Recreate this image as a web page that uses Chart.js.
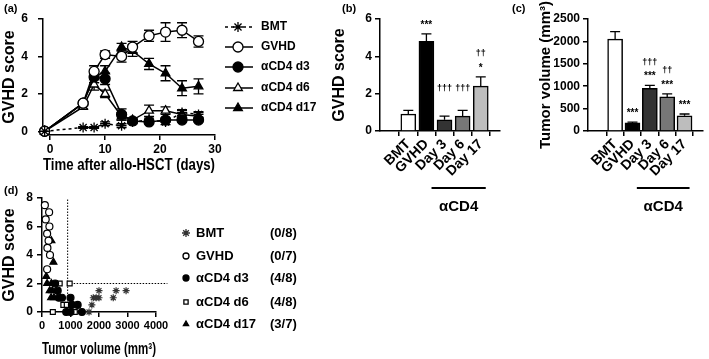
<!DOCTYPE html>
<html lang="en">
<head>
<meta charset="UTF-8">
<title>GVHD score and tumor volume</title>
<script src="https://cdn.jsdelivr.net/npm/chart.js"></script>
<style>
    body { margin: 0; background: #fff; overflow: hidden; }
    #page { position: relative; width: 709px; height: 359px; overflow: hidden; font-family: 'Liberation Sans', Arial, sans-serif; }
    .panel { position: absolute; }
    .tag { position: absolute; font-size: 11px; font-weight: bold; }
</style>
</head>
<body>
<div id="page">
    <div class="panel" style="left:0;top:0;width:340px;height:180px"><canvas id="chartA"></canvas></div>
    <div class="panel" style="left:330px;top:0;width:180px;height:230px"><canvas id="chartB"></canvas></div>
    <div class="panel" style="left:537px;top:0;width:172px;height:230px"><canvas id="chartC"></canvas></div>
    <div class="panel" style="left:0;top:185px;width:330px;height:178px"><canvas id="chartD"></canvas></div>
    <div class="tag" style="left:4px;top:2px">(a)</div>
    <div class="tag" style="left:342px;top:2px">(b)</div>
    <div class="tag" style="left:512px;top:2px">(c)</div>
    <div class="tag" style="left:4px;top:184px">(d)</div>
</div>

<script>
    // ---- (a) GVHD score over time ----
    const days = [-1, 6, 8, 10, 13, 15, 18, 21, 24, 27];
    const bmtScore = [0, 0.2, 0.2, 0.4, 0.3, 0.5, 0.6, 0.5, 1.0, 0.9];
    const bmtErr = [0, 0.05, 0.05, 0.1, 0.1, 0.1, 0.1, 0.15, 0.15, 0.15];
    const gvhdScore = [0, 1.5, 3.2, 4.1, 4.0, 4.5, 5.1, 5.3, 5.4, 4.8];
    const gvhdErr = [0, 0.1, 0.3, 0.2, 0.3, 0.3, 0.3, 0.5, 0.4, 0.3];
    const d3Score = [0, 1.5, 2.9, 2.8, 0.9, 0.55, 0.5, 0.6, 0.6, 0.6];
    const d3Err = [0, 0.1, 0.3, 0.3, 0.3, 0.1, 0.1, 0.1, 0.1, 0.1];
    const d6Score = [0, 1.3, 2.5, 2.0, 0.8, 0.6, 1.1, 1.1, 0.9, 0.8];
    const d6Err = [0, 0.1, 0.3, 0.2, 0.2, 0.1, 0.3, 0.2, 0.2, 0.2];
    const d17Score = [0, 1.5, 2.9, 3.2, 4.5, 4.3, 3.6, 3.1, 2.3, 2.4];
    const d17Err = [0, 0.1, 0.3, 0.3, 0.2, 0.3, 0.3, 0.4, 0.4, 0.4];
    const seriesNames = ['BMT', 'GVHD', 'αCD4 d3', 'αCD4 d6', 'αCD4 d17'];

    // ---- (b) and (c) bar panels ----
    const barLabels = ['BMT', 'GVHD', 'Day 3', 'Day 6', 'Day 17'];
    const barScore = [0.9, 4.8, 0.6, 0.8, 2.4];
    const barScoreErr = [0.2, 0.4, 0.2, 0.3, 0.5];
    const scoreStars = ['', '***', '', '', '*'];
    const scoreDaggers = ['', '', '†††', '†††', '††'];
    const tumorVol = [2050, 180, 950, 760, 340];
    const tumorVolErr = [170, 20, 70, 70, 40];
    const tumorStars = ['', '***', '***', '***', '***'];
    const tumorDaggers = ['', '', '†††', '††', ''];
    const barFill = ['#ffffff', '#000000', '#333333', '#777777', '#bdbdbd'];

    // ---- (d) tumor volume vs GVHD score per mouse ----
    const bmtPts = [[2000, 1.5], [2600, 1.5], [2950, 1.5], [1800, 1.0], [1900, 1.0], [2000, 1.0], [2500, 1.0], [1750, 0.5], [1650, 0]];
    const gvhdPts = [[100, 7.5], [250, 7.0], [130, 6.5], [260, 6.0], [180, 5.5], [230, 5.0], [190, 4.5], [280, 4.0], [180, 3.0]];
    const d3Pts = [[460, 2.0], [550, 1.5], [590, 1.0], [700, 1.0], [1000, 1.0], [1050, 0.5], [1250, 0.5], [850, 0], [1000, 0], [1400, 0]];
    const d6Pts = [[620, 2.0], [970, 2.0], [750, 0.5], [870, 0.5], [380, 0], [1150, 0]];
    const d17Pts = [[330, 5.0], [400, 3.5], [150, 2.5], [180, 2.0], [330, 2.0], [270, 1.5], [360, 1.5], [320, 1.0], [420, 1.0]];
    const pdCounts = ['(0/8)', '(0/7)', '(4/8)', '(4/8)', '(3/7)'];
    const tumorCut = 900;
    const scoreCut = 2;

    const FONT = "'Liberation Sans', Arial, sans-serif";
    Chart.defaults.font.family = FONT;
    Chart.defaults.font.weight = 'bold';
    Chart.defaults.color = '#000';
    Chart.defaults.animation = false;
    Chart.defaults.plugins.legend.display = false;
    Chart.defaults.plugins.tooltip.enabled = false;
    Chart.defaults.maintainAspectRatio = false;
    Chart.defaults.responsive = true;

    function axisStyle(extra) {
        return Object.assign({
            grid: { display: true, drawOnChartArea: false, tickLength: 5, color: '#000', lineWidth: 1.5 },
            border: { color: '#000', width: 1.5 },
        }, extra);
    }

    function drawMarker(ctx, style, r, x, y, fill, stroke) {
        ctx.save();
        ctx.fillStyle = fill;
        ctx.strokeStyle = stroke || '#000';
        ctx.lineWidth = 1.3;
        Chart.helpers.drawPoint(ctx, { pointStyle: style, radius: r, rotation: 0, borderWidth: 1.3 }, x, y);
        ctx.restore();
    }

    // error bars; "up" for bars, both ways for the time course
    const errorBars = {
        id: 'errorBars',
        beforeDatasetsDraw(chart) {
            const ctx = chart.ctx;
            const ys = chart.scales.y;
            chart.data.datasets.forEach((ds, di) => {
                if (!ds.errors) return;
                const meta = chart.getDatasetMeta(di);
                ctx.save();
                ctx.strokeStyle = '#000';
                ctx.lineWidth = 1.3;
                meta.data.forEach((el, i) => {
                    const e = ds.errors[i];
                    if (!e) return;
                    const v = typeof ds.data[i] === 'object' ? ds.data[i].y : ds.data[i];
                    const top = ys.getPixelForValue(v + e);
                    const bot = ds.errorUpOnly ? ys.getPixelForValue(v) : ys.getPixelForValue(v - e);
                    const w = ds.capWidth || 5;
                    ctx.beginPath();
                    ctx.moveTo(el.x, top); ctx.lineTo(el.x, bot);
                    ctx.moveTo(el.x - w, top); ctx.lineTo(el.x + w, top);
                    if (!ds.errorUpOnly) { ctx.moveTo(el.x - w, bot); ctx.lineTo(el.x + w, bot); }
                    ctx.stroke();
                });
                ctx.restore();
            });
        }
    };

    // significance marks and the αCD4 bracket under the bar panels
    function barNotes(stars, daggers) {
        return {
            id: 'barNotes',
            afterDraw(chart) {
                const ctx = chart.ctx;
                const ds = chart.data.datasets[0];
                const ys = chart.scales.y, xs = chart.scales.x;
                ctx.save();
                ctx.fillStyle = '#000';
                ctx.textAlign = 'center';
                ctx.textBaseline = 'middle';
                const tops = ds.data.map((p, i) => ys.getPixelForValue(p.y + ds.errors[i]));
                const plainDaggers = daggers.map((d, i) => d && !stars[i] ? tops[i] : Infinity);
                const plainTop = Math.min(...plainDaggers);
                ds.data.forEach((p, i) => {
                    const x = xs.getPixelForValue(p.x);
                    let y = tops[i] - 9;
                    if (stars[i]) {
                        ctx.font = 'bold 10px ' + FONT;
                        ctx.fillText(stars[i], x, y);
                        y -= 14;
                    } else {
                        y = plainTop - 22;
                    }
                    if (daggers[i]) {
                        ctx.font = 'bold 9px ' + FONT;
                        ctx.fillText(daggers[i], x, y);
                    }
                });
                const lineY = chart.chartArea.bottom + 57;
                const x0 = xs.getPixelForValue(3) - 13, x1 = xs.getPixelForValue(5) + 5;
                ctx.lineWidth = 2;
                ctx.beginPath(); ctx.moveTo(x0, lineY); ctx.lineTo(x1, lineY); ctx.stroke();
                ctx.font = 'bold 15px ' + FONT;
                ctx.fillText('αCD4', (x0 + x1) / 2, lineY + 19);
                ctx.restore();
            }
        };
    }

    // ---------------- (a) ----------------
    const markA = [
        { style: 'star', fill: '#000', dash: [3, 3] },
        { style: 'circle', fill: '#fff', dash: [] },
        { style: 'circle', fill: '#000', dash: [] },
        { style: 'triangle', fill: '#fff', dash: [] },
        { style: 'triangle', fill: '#000', dash: [] }
    ];
    const scoresA = [bmtScore, gvhdScore, d3Score, d6Score, d17Score];
    const errsA = [bmtErr, gvhdErr, d3Err, d6Err, d17Err];
    const legendA = {
        id: 'legendA',
        afterDraw(chart) {
            const ctx = chart.ctx;
            const rows = [27, 47, 67, 88, 108];
            ctx.save();
            seriesNames.forEach((name, i) => {
                const y = rows[i];
                ctx.strokeStyle = '#000';
                ctx.lineWidth = 1.5;
                ctx.setLineDash(markA[i].dash);
                ctx.beginPath(); ctx.moveTo(225, y); ctx.lineTo(253, y); ctx.stroke();
                ctx.setLineDash([]);
                drawMarker(ctx, markA[i].style, 5, 238, y, markA[i].fill);
                ctx.fillStyle = '#000';
                ctx.font = 'bold 12px ' + FONT;
                ctx.textBaseline = 'middle';
                ctx.fillText(name, 261, y);
            });
            ctx.restore();
        }
    };
    new Chart(document.getElementById('chartA'), {
        type: 'line',
        data: {
            datasets: scoresA.map((s, k) => ({
                label: seriesNames[k],
                data: days.map((d, i) => ({ x: d, y: s[i] })),
                errors: errsA[k],
                capWidth: 5,
                borderColor: '#000',
                borderWidth: 1.5,
                borderDash: markA[k].dash,
                pointStyle: markA[k].style,
                pointRadius: 5,
                pointBorderWidth: 1.3,
                pointBorderColor: '#000',
                pointBackgroundColor: markA[k].fill,
                clip: false
            }))
        },
        options: {
            layout: { padding: { top: 19, right: 125, left: 0, bottom: 0 } },
            scales: {
                x: axisStyle({
                    type: 'linear', min: -1.3, max: 30,
                    afterFit: s => { s.height = 45; },
                    ticks: { stepSize: 10, includeBounds: false, font: { size: 12 }, padding: 2 },
                    title: { display: true, text: 'Time after allo-HSCT (days)', font: { size: 17 }, padding: { top: 3 } }
                }),
                y: axisStyle({
                    min: -0.2, max: 6,
                    afterFit: s => { s.width = 43; },
                    ticks: { stepSize: 2, includeBounds: false, font: { size: 12 }, padding: 10 },
                    title: { display: true, text: 'GVHD score', font: { size: 16 }, padding: 0 }
                })
            }
        },
        plugins: [errorBars, legendA]
    });

    // ---------------- (b) and (c) ----------------
    function barChart(id, values, errs, stars, daggers, yOpts, leftW, rightPad, yTitle, titleSize) {
        return new Chart(document.getElementById(id), {
            type: 'bar',
            data: {
                datasets: [{
                    data: values.map((v, i) => ({ x: i + 1, y: v })),
                    errors: errs,
                    errorUpOnly: true,
                    capWidth: 5,
                    backgroundColor: barFill,
                    borderColor: '#000',
                    borderWidth: 1.5,
                    barThickness: 15
                }]
            },
            options: {
                layout: { padding: { top: 19, right: rightPad, left: 0, bottom: 0 } },
                scales: {
                    x: axisStyle({
                        type: 'linear', min: 0.1, max: 5.4,
                        afterFit: s => { s.height = 230 - 19 - 112; },
                        ticks: {
                            stepSize: 1, includeBounds: false, autoSkip: false,
                            minRotation: 45, maxRotation: 45, font: { size: 14 }, padding: 0,
                            callback: v => barLabels[v - 1] || ''
                        }
                    }),
                    y: axisStyle(Object.assign({
                        afterFit: s => { s.width = leftW; },
                        title: { display: true, text: yTitle, font: { size: titleSize }, padding: 0 }
                    }, yOpts))
                }
            },
            plugins: [errorBars, barNotes(stars, daggers)]
        });
    }
    barChart('chartB', barScore, barScoreErr, scoreStars, scoreDaggers,
        { min: 0, max: 6, ticks: { stepSize: 2, font: { size: 12 }, padding: 3 } }, 50, 10, 'GVHD score', 16);
    barChart('chartC', tumorVol, tumorVolErr, tumorStars, tumorDaggers,
        { min: 0, max: 2500, ticks: { stepSize: 500, font: { size: 12 }, padding: 3, callback: v => String(v) } },
        51, 6, 'Tumor volume (mm³)', 15);

    // ---------------- (d) ----------------
    const markD = [
        { style: 'star', fill: '#333', r: 3.5 },
        { style: 'circle', fill: '#fff', r: 3.5 },
        { style: 'circle', fill: '#000', r: 3.5 },
        { style: 'rect', fill: '#fff', r: 3.5 },
        { style: 'triangle', fill: '#000', r: 4 }
    ];
    const ptsD = [bmtPts, gvhdPts, d3Pts, d6Pts, d17Pts];
    const legendD = {
        id: 'legendD',
        afterDraw(chart) {
            const ctx = chart.ctx;
            const rows = [48, 71, 93, 117, 139];
            ctx.save();
            seriesNames.forEach((name, i) => {
                const y = rows[i];
                drawMarker(ctx, markD[i].style, i === 0 ? 4 : 3, 186, y, markD[i].fill, i === 0 ? '#333' : '#000');
                ctx.fillStyle = '#000';
                ctx.font = 'bold 13px ' + FONT;
                ctx.textBaseline = 'middle';
                ctx.fillText(name, 196, y);
                ctx.fillText(pdCounts[i], 270, y);
            });
            ctx.restore();
        }
    };
    new Chart(document.getElementById('chartD'), {
        type: 'scatter',
        data: {
            datasets: ptsD.map((pts, k) => ({
                label: seriesNames[k],
                data: pts.map(p => ({ x: p[0], y: p[1] })),
                pointStyle: markD[k].style,
                pointRadius: markD[k].r,
                pointBorderWidth: 1.2,
                pointBorderColor: k === 0 ? '#333' : '#000',
                pointBackgroundColor: markD[k].fill,
                clip: false
            })).concat([
                { type: 'line', data: [{ x: tumorCut, y: 0 }, { x: tumorCut, y: 8 }], borderColor: '#000', borderWidth: 1, borderDash: [1.5, 1.5], pointRadius: 0, clip: false, order: 10 },
                { type: 'line', data: [{ x: tumorCut, y: scoreCut }, { x: 4400, y: scoreCut }], borderColor: '#000', borderWidth: 1, borderDash: [1.5, 1.5], pointRadius: 0, clip: false, order: 10 }
            ])
        },
        options: {
            layout: { padding: { top: 13, right: 174, left: 0, bottom: 0 } },
            scales: {
                x: axisStyle({
                    type: 'linear', min: 0, max: 4000,
                    afterFit: s => { s.height = 51; },
                    ticks: { stepSize: 1000, font: { size: 11 }, padding: 2, autoSkip: false, minRotation: 0, maxRotation: 0, callback: v => String(v) },
                    title: { display: true, text: 'Tumor volume (mm³)', font: { size: 16 }, padding: { top: 3 } }
                }),
                y: axisStyle({
                    min: 0, max: 8,
                    afterFit: s => { s.width = 42; },
                    ticks: { stepSize: 2, font: { size: 12 }, padding: 4 },
                    title: { display: true, text: 'GVHD score', font: { size: 16 }, padding: 0 }
                })
            }
        },
        plugins: [legendD]
    });
</script>
</body>
</html>
